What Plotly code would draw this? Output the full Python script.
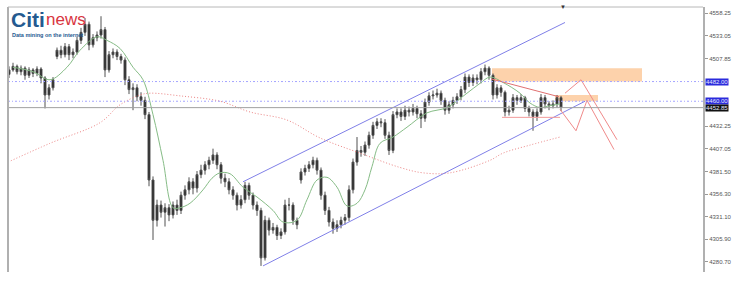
import plotly.graph_objects as go

# ---------------- data ----------------
opens = [4490,4495,4499,4493,4497,4489,4495,4491,4496,4486,
         4467,4475,4510,4517,4512,4521,4512,4515,4528,4537,
         4546,4523,4531,4534,4540,4495,4512,4515,4510,4506,
         4484,4473,4475,4465,4461,4445,4372,4327,4344,4336,
         4341,4333,4344,4338,4355,4361,4370,4363,4378,4383,
         4389,4394,4400,4389,4374,4370,4361,4355,4344,4350,
         4366,4355,4344,4338,4285,4327,4316,4319,4310,4314,
         4344,4344,4327,4372,4381,4385,4389,4394,4383,4355,
         4338,4325,4318,4322,4327,4330,4361,4392,4405,4403,
         4411,4422,4433,4437,4436,4422,4405,4445,4448,4443,
         4450,4448,4452,4446,4441,4459,4466,4467,4469,4461,
         4450,4456,4461,4465,4473,4487,4481,4486,4484,4493,
         4497,4489,4467,4475,4470,4448,4450,4464,4461,4464,
         4452,4448,4443,4448,4464,4457,4455,4457,4464]
closes = [4495,4499,4493,4497,4489,4495,4491,4496,4486,4467,
          4475,4484,4517,4512,4521,4512,4515,4528,4537,4546,
          4523,4531,4534,4540,4495,4512,4515,4510,4506,4484,
          4473,4475,4465,4461,4445,4372,4327,4344,4336,4341,
          4333,4344,4338,4355,4361,4370,4363,4378,4383,4389,
          4394,4400,4389,4374,4370,4361,4355,4344,4350,4366,
          4355,4344,4338,4285,4327,4316,4319,4310,4314,4344,
          4344,4327,4322,4381,4385,4389,4394,4383,4355,4338,
          4325,4318,4322,4327,4330,4361,4392,4405,4403,4411,
          4422,4433,4437,4436,4422,4405,4445,4448,4443,4450,
          4448,4452,4446,4441,4459,4466,4467,4469,4461,4450,
          4456,4461,4465,4473,4487,4481,4486,4484,4493,4497,
          4489,4467,4475,4470,4448,4450,4464,4461,4464,4452,
          4448,4443,4448,4464,4457,4455,4457,4464,4453]
highs = [4499,4503,4501,4500,4499,4498,4497,4499,4498,4488,
         4479,4487,4520,4522,4525,4524,4519,4532,4542,4553,
         4549,4535,4538,4555,4543,4516,4519,4518,4513,4509,
         4488,4480,4479,4470,4465,4448,4376,4350,4349,4346,
         4345,4348,4350,4359,4366,4375,4374,4382,4389,4393,
         4398,4407,4403,4392,4379,4374,4365,4358,4355,4370,
         4369,4358,4348,4341,4332,4330,4324,4322,4318,4350,
         4352,4347,4330,4385,4389,4393,4398,4397,4386,4359,
         4342,4329,4327,4331,4334,4366,4396,4420,4410,4415,
         4426,4437,4441,4441,4440,4426,4449,4452,4452,4455,
         4454,4457,4455,4450,4463,4470,4472,4474,4472,4464,
         4460,4465,4469,4477,4491,4490,4490,4490,4497,4501,
         4499,4491,4479,4478,4472,4455,4468,4467,4468,4466,
         4455,4451,4452,4468,4467,4460,4461,4467,4466]
lows = [4486,4493,4490,4489,4484,4486,4487,4488,4480,4452,
        4462,4472,4507,4508,4509,4506,4508,4512,4524,4533,
        4517,4520,4527,4530,4487,4492,4508,4506,4502,4478,
        4468,4450,4460,4455,4440,4365,4305,4320,4330,4320,
        4326,4329,4333,4334,4350,4356,4356,4358,4374,4378,
        4384,4390,4384,4368,4364,4356,4350,4338,4340,4346,
        4350,4339,4332,4276,4282,4310,4312,4305,4306,4311,
        4338,4322,4317,4368,4377,4381,4385,4378,4350,4333,
        4320,4312,4314,4318,4322,4326,4357,4388,4398,4399,
        4407,4418,4429,4431,4418,4400,4402,4441,4438,4439,
        4443,4444,4441,4430,4437,4455,4462,4464,4456,4445,
        4446,4452,4457,4461,4469,4476,4477,4479,4480,4489,
        4484,4462,4463,4465,4443,4444,4447,4456,4458,4448,
        4443,4427,4438,4445,4452,4450,4452,4453,4449]
bars = list(range(len(closes)))

# short moving average (green)
ma_fast_bar = [1,6,10.25,14.5,17.75,22,24.5,27.75,31,33.5,36,38.5,41,42.75,45.25,
               48.5,50.75,52.75,55.25,58.5,62,66,68.5,72,74.5,77,79.5,82,84.5,87,
               89,90.75,92.75,96,99.5,104.5,109.5,114.5,117.75,120.25,123.5,
               127.75,130.25,132.75,135.25,137.75]
ma_fast_val = [4498,4493,4484,4498,4517,4532,4528,4519,4498,4484,4445,4394,4341,4341,4346,
               4361,4374,4380,4379,4364,4353,4338,4325,4327,4350,4372,4375,4364,4343,4346,
               4361,4387,4413,4420,4431,4447,4453,4469,4480,4487,4481,
               4469,4458,4453,4455,4457]

# long moving average (red dotted)
ma_slow_bar = [-0.25,10.25,22.75,27.75,32.75,35.25,42.75,52.75,60.25,69.5,77.75,
               87.75,97.75,103.5,110.25,120.25,123.5,130.25,137.75]
ma_slow_val = [4392,4413,4436,4456,4467,4469,4466,4460,4448,4439,4419,
               4402,4386,4380,4380,4394,4402,4411,4420]

# drawn objects (bar index, price)
channel_upper_bar = [58.5, 139]
channel_upper_val = [4370, 4548]
channel_lower_bar = [63.5, 144]
channel_lower_val = [4276, 4460]
trend_bar = [120.5, 137.5]
trend_val = [4485, 4465]
support_bar = [123.25, 137.75]
support_val = [4442, 4442]
proj_a_bar = [139, 143, 152]
proj_a_val = [4469, 4484, 4417]
proj_b_bar = [137.75, 141.75, 144.5, 151.25]
proj_b_val = [4451, 4427, 4461, 4406]
zone_big = [120.75, 158.25, 4482, 4497]
zone_small = [136.5, 147.25, 4460, 4467]
level_resist = 4482.00
level_pivot = 4460.00
last_price = 4452.85
shift_marker_bar = 138.5

tick_vals = [4558.25, 4533.05, 4507.85, 4432.25, 4407.05, 4381.50,
             4356.30, 4331.10, 4305.90, 4280.70]
x_range = [-0.25, 173.5]
y_range = [4269.2, 4565.3]

# ---------------- figure ----------------
fig = go.Figure()

fig.add_trace(go.Scatter(x=ma_slow_bar, y=ma_slow_val, mode="lines",
                         line=dict(color="#ec8484", width=1, dash="1px,2px", shape="spline"),
                         hoverinfo="skip", showlegend=False))

fig.add_trace(go.Candlestick(
    x=bars, open=opens, high=highs, low=lows, close=closes,
    increasing=dict(line=dict(color="#505050", width=1), fillcolor="#1c1c1c"),
    decreasing=dict(line=dict(color="#505050", width=1), fillcolor="#1c1c1c"),
    whiskerwidth=0, hoverinfo="skip", showlegend=False))

fig.add_trace(go.Scatter(x=ma_fast_bar, y=ma_fast_val, mode="lines",
                         line=dict(color="#86bc86", width=1, shape="spline"),
                         hoverinfo="skip", showlegend=False))

for bx, by, col in [(channel_upper_bar, channel_upper_val, "#8080e8"),
                    (channel_lower_bar, channel_lower_val, "#8080e8"),
                    (trend_bar, trend_val, "#e07070"),
                    (support_bar, support_val, "#f39a9a"),
                    (proj_a_bar, proj_a_val, "#f08a8a"),
                    (proj_b_bar, proj_b_val, "#f08a8a")]:
    fig.add_trace(go.Scatter(x=bx, y=by, mode="lines", line=dict(color=col, width=1),
                             hoverinfo="skip", showlegend=False))

shapes = []
for z in (zone_big, zone_small):
    shapes.append(dict(type="rect", xref="x", yref="y", x0=z[0], x1=z[1], y0=z[2], y1=z[3],
                       fillcolor="#fdd2ab", line=dict(width=0), layer="below"))
for lv in (level_resist, level_pivot):
    shapes.append(dict(type="line", xref="paper", yref="y", x0=0, x1=1, y0=lv, y1=lv,
                       line=dict(color="#a4a4ff", width=1, dash="2px,2px,1px,2px")))
shapes.append(dict(type="line", xref="paper", yref="y", x0=0, x1=1, y0=last_price, y1=last_price,
                   line=dict(color="#a0a0a0", width=1)))
# frame: left and top borders
shapes.append(dict(type="line", xref="paper", yref="paper", x0=0, x1=0, y0=0, y1=1,
                   line=dict(color="#b0b0b0", width=2)))
shapes.append(dict(type="line", xref="paper", yref="paper", x0=0, x1=1, y0=1, y1=1,
                   line=dict(color="#b8b8b8", width=1)))

annotations = []
for val, bg in [(level_resist, "#2b2bdc"), (level_pivot, "#2b2bdc"), (last_price, "#111111")]:
    annotations.append(dict(x=1, xref="paper", y=val, yref="y", xanchor="left", xshift=2,
                            text=f"{val:.2f}", showarrow=False, bgcolor=bg, borderpad=0,
                            font=dict(size=6, color="#e8e8ff", family="Liberation Sans")))
# logo
annotations.append(dict(x=0.002, y=1.0, xref="paper", yref="paper", xanchor="left", yanchor="top",
                        yshift=1, text="<b>Citi</b>", showarrow=False,
                        font=dict(size=21, color="#245a90", family="Liberation Sans")))
annotations.append(dict(x=0.052, y=1.0, xref="paper", yref="paper", xanchor="left", yanchor="top",
                        yshift=-1, text="news", showarrow=False,
                        font=dict(size=17, color="#d8353f", family="Liberation Sans")))
annotations.append(dict(x=0.003, y=0.915, xref="paper", yref="paper", xanchor="left", yanchor="top",
                        text="<b>Data mining on the internet</b>", showarrow=False,
                        font=dict(size=5.5, color="#245a90", family="Liberation Sans")))
annotations.append(dict(x=shift_marker_bar, xref="x", y=1.0, yref="paper", yanchor="middle",
                        text="▼", showarrow=False, font=dict(size=6, color="#333333")))

fig.update_layout(
    width=744, height=287,
    margin=dict(l=8, r=41, t=7, b=15),
    paper_bgcolor="#ffffff", plot_bgcolor="#ffffff",
    shapes=shapes, annotations=annotations,
    xaxis=dict(range=x_range, visible=False, rangeslider=dict(visible=False), fixedrange=True),
    yaxis=dict(range=y_range, side="right", showgrid=False, zeroline=False,
               tickvals=tick_vals, ticktext=[f"{v:.2f}" for v in tick_vals],
               ticks="outside", ticklen=3, tickcolor="#999999",
               tickfont=dict(size=6, color="#555555", family="Liberation Sans"),
               showline=True, linecolor="#b0b0b0", linewidth=2, fixedrange=True),
)

fig.write_html("out.html")
